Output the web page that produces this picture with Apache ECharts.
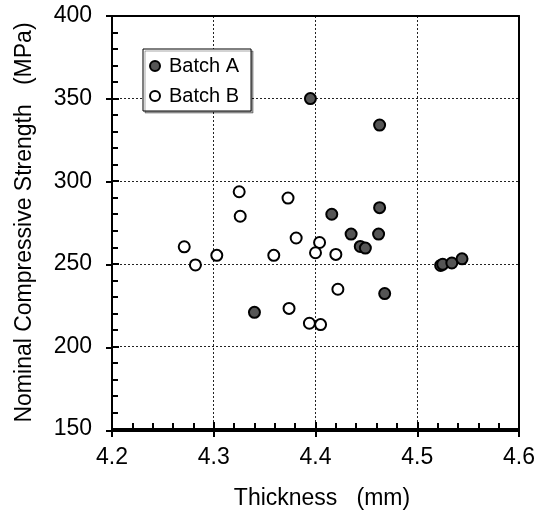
<!DOCTYPE html>
<html>
<head>
<meta charset="utf-8">
<script src="https://cdn.jsdelivr.net/npm/echarts@6/dist/echarts.min.js"></script>
<style>html,body{margin:0;padding:0;background:#fff}#c{width:538px;height:515px}</style>
</head>
<body>
<div id="c"></div>
<script>
const batchAX = [4.395, 4.463, 4.416, 4.463, 4.435, 4.462, 4.444, 4.449, 4.468, 4.340, 4.523, 4.525, 4.534, 4.544];
const batchAY = [350, 334, 280, 284, 268, 268, 260.5, 259.5, 232, 220.6, 249, 249.7, 250.5, 253];
const batchBX = [4.325, 4.373, 4.326, 4.381, 4.404, 4.400, 4.420, 4.271, 4.282, 4.303, 4.359, 4.422, 4.374, 4.394, 4.405];
const batchBY = [293.6, 289.8, 278.8, 265.6, 262.9, 256.7, 255.7, 260.3, 249.3, 255.1, 255.1, 234.6, 223.0, 214.0, 213.2];
const seriesNames = ['Batch A', 'Batch B'];
const xTitle = 'Thickness   (mm)';
const yTitle = 'Nominal Compressive Strength   (MPa)';
const xMin = 4.2, xMax = 4.6, xStep = 0.1;
const yMin = 150, yMax = 400, yStep = 50;

const FONT = '"Liberation Sans", Arial, sans-serif';
const chart = echarts.init(document.getElementById('c'));
const zip = (xs, ys) => xs.map((x, i) => [x, ys[i]]);

const gridBox = {left: 112, right: 19, top: 16, bottom: 84};

chart.setOption({
  animation: false,
  backgroundColor: '#fff',
  grid: [
    Object.assign({}, gridBox),
    Object.assign({}, gridBox)
  ],
  xAxis: [
    {
      type: 'value', gridIndex: 0, min: xMin, max: xMax, interval: xStep,
      name: xTitle, nameLocation: 'middle', nameGap: 58,
      nameTextStyle: {fontFamily: FONT, fontSize: 23, color: '#000', padding: [0, 0, 0, 13]},
      axisLine: {show: true, onZero: false, lineStyle: {color: '#000', width: 2}},
      axisTick: {show: true, inside: true, length: 7, lineStyle: {color: '#000', width: 2}},
      minorTick: {show: true, splitNumber: 5, length: 6, lineStyle: {color: '#000', width: 2}},
      axisLabel: {fontFamily: FONT, fontSize: 23, color: '#000', margin: 17, formatter: v => v.toFixed(1)},
      splitLine: {show: true, lineStyle: {color: '#222', width: 1, type: [2, 2]}}
    },
    {
      type: 'value', gridIndex: 1, min: xMin, max: xMax, interval: xStep, position: 'bottom',
      axisLine: {show: true, onZero: false, lineStyle: {color: '#000', width: 2}},
      axisTick: {show: true, inside: false, length: 6, lineStyle: {color: '#000', width: 2}},
      axisLabel: {show: false},
      splitLine: {show: false}
    },
    {
      type: 'value', gridIndex: 1, min: xMin, max: xMax, interval: xStep, position: 'top',
      axisLine: {show: true, onZero: false, lineStyle: {color: '#000', width: 2}},
      axisTick: {show: false}, axisLabel: {show: false}, splitLine: {show: false}
    }
  ],
  yAxis: [
    {
      type: 'value', gridIndex: 0, min: yMin, max: yMax, interval: yStep,
      name: yTitle, nameLocation: 'middle', nameGap: 76, nameRotate: 90,
      nameTextStyle: {fontFamily: FONT, fontSize: 23, color: '#000'},
      axisLine: {show: true, onZero: false, lineStyle: {color: '#000', width: 2}},
      axisTick: {show: true, inside: true, length: 7, lineStyle: {color: '#000', width: 2}},
      minorTick: {show: true, splitNumber: 5, length: 6, lineStyle: {color: '#000', width: 2}},
      axisLabel: {fontFamily: FONT, fontSize: 23, color: '#000', margin: 20},
      splitLine: {show: true, lineStyle: {color: '#222', width: 1, type: [2, 2]}}
    },
    {
      type: 'value', gridIndex: 1, min: yMin, max: yMax, interval: yStep, position: 'left',
      axisLine: {show: true, onZero: false, lineStyle: {color: '#000', width: 2}},
      axisTick: {show: true, inside: false, length: 6, lineStyle: {color: '#000', width: 2}},
      axisLabel: {show: false},
      splitLine: {show: false}
    },
    {
      type: 'value', gridIndex: 1, min: yMin, max: yMax, interval: yStep, position: 'right',
      axisLine: {show: true, onZero: false, lineStyle: {color: '#000', width: 2}},
      axisTick: {show: false}, axisLabel: {show: false}, splitLine: {show: false}
    }
  ],
  legend: {
    orient: 'vertical', left: 143, top: 49,
    padding: [7, 12, 5, 6], itemGap: 10,
    itemWidth: 10, itemHeight: 10,
    backgroundColor: '#fff', borderColor: '#000', borderWidth: 1,
    shadowColor: 'rgba(0,0,0,0.35)', shadowBlur: 0, shadowOffsetX: 2, shadowOffsetY: 2,
    textStyle: {fontFamily: FONT, fontSize: 20, color: '#000', lineHeight: 20, padding: [0, 0, 0, 4]},
    data: [{name: seriesNames[0], icon: 'circle'}, {name: seriesNames[1], icon: 'circle'}]
  },
  series: [
    {
      name: seriesNames[0], type: 'scatter', xAxisIndex: 0, yAxisIndex: 0,
      symbol: 'circle', symbolSize: 11,
      itemStyle: {color: '#555', borderColor: '#000', borderWidth: 2, opacity: 1},
      data: zip(batchAX, batchAY), z: 3
    },
    {
      name: seriesNames[1], type: 'scatter', xAxisIndex: 0, yAxisIndex: 0,
      symbol: 'circle', symbolSize: 11,
      itemStyle: {color: '#fff', borderColor: '#000', borderWidth: 2, opacity: 1},
      data: zip(batchBX, batchBY), z: 3
    },
    {type: 'scatter', xAxisIndex: 1, yAxisIndex: 1, data: [], silent: true},
    {type: 'scatter', xAxisIndex: 2, yAxisIndex: 2, data: [], silent: true}
  ]
});
</script>
</body>
</html>
